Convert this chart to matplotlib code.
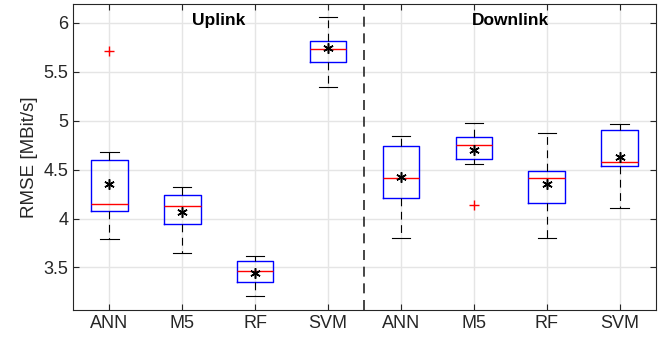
import matplotlib
matplotlib.use("Agg")
import matplotlib.pyplot as plt

plt.rcParams['font.family'] = ['Liberation Sans', 'DejaVu Sans']

labels = ["ANN", "M5", "RF", "SVM", "ANN", "M5", "RF", "SVM"]
whislo = [3.79, 3.645, 3.21, 5.345, 3.80, 4.56, 3.80, 4.107]
q1 = [4.08, 3.94, 3.349, 5.60, 4.21, 4.61, 4.16, 4.533]
med = [4.145, 4.125, 3.464, 5.726, 4.416, 4.75, 4.416, 4.573]
q3 = [4.60, 4.236, 3.563, 5.814, 4.737, 4.835, 4.49, 4.90]
whishi = [4.68, 4.325, 3.617, 6.053, 4.845, 4.98, 4.87, 4.967]
means = [4.35, 4.07, 3.447, 5.736, 4.42, 4.70, 4.35, 4.625]
outliers = [[5.71], [], [], [], [], [4.14], [], []]


def build_stats():
    stats = []
    for i in range(len(labels)):
        stats.append(dict(label=labels[i], whislo=whislo[i], q1=q1[i], med=med[i],
                          q3=q3[i], whishi=whishi[i], mean=means[i], fliers=outliers[i]))
    return stats


fig = plt.figure(figsize=(6.71, 3.43), dpi=100)
ax = fig.add_axes([0.1088, 0.0962, 0.8688, 0.8921])

ax.bxp(build_stats(), widths=0.5, showmeans=True,
       boxprops=dict(color="blue", linewidth=1.0),
       medianprops=dict(color="red", linewidth=1.0),
       whiskerprops=dict(color="black", linestyle=(0, (7, 5)), linewidth=0.8),
       capprops=dict(color="black", linewidth=0.8),
       flierprops=dict(marker="+", markeredgecolor="red", markersize=7, linestyle="none"),
       meanprops=dict(marker=(6, 2, 0), markeredgecolor="black", markerfacecolor="black",
                      markersize=7.5, markeredgewidth=1.1, linestyle="none"))

ax.axvline(4.5, color="#262626", linestyle=(0, (6, 4)), linewidth=1.2)

ax.text(2.5, 6.026, "Uplink", ha="center", va="center", fontsize=12.5, fontweight="bold")
ax.text(6.5, 6.026, "Downlink", ha="center", va="center", fontsize=12.5, fontweight="bold")

ax.set_xlim(0.5, 8.5)
ax.set_ylim(3.066, 6.19)
ax.set_yticks([3.5, 4, 4.5, 5, 5.5, 6])
ax.set_yticklabels(["3.5", "4", "4.5", "5", "5.5", "6"])
ax.set_ylabel("RMSE [MBit/s]", fontsize=13.5, color="#262626")

ax.grid(True, color="#e5e5e5", linewidth=1.0)
ax.set_axisbelow(True)
ax.tick_params(direction="in", top=True, right=True, length=4, labelsize=13,
               colors="#262626")
for s in ax.spines.values():
    s.set_color("#262626")
    s.set_linewidth(0.8)

fig.savefig("out.png", dpi=100)
